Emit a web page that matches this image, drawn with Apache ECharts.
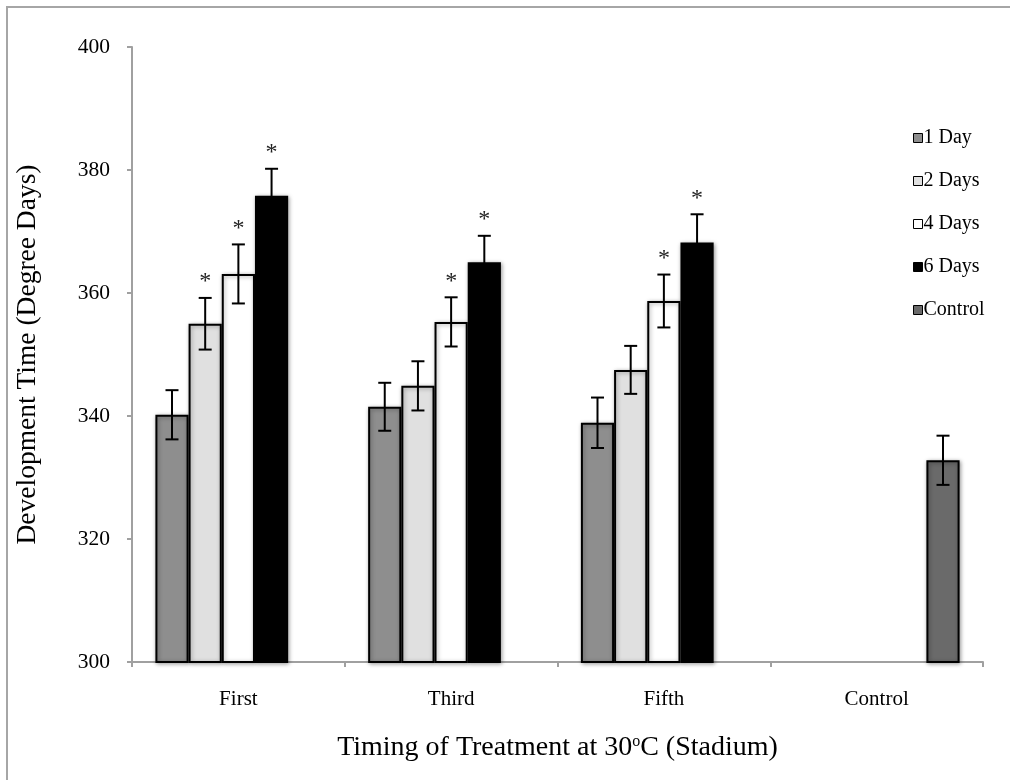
<!DOCTYPE html>
<html>
<head>
<meta charset="utf-8">
<script src="https://cdn.jsdelivr.net/npm/echarts@6/dist/echarts.min.js"></script>
<style>
html,body{margin:0;padding:0;background:#fff;}
#chart{width:1010px;height:780px;}
</style>
</head>
<body>
<div id="chart"></div>
<script>
const categories = ['First', 'Third', 'Fifth', 'Control'];
const seriesNames = ['1 Day', '2 Days', '4 Days', '6 Days', 'Control'];
const yTicks = [300, 320, 340, 360, 380, 400];

const oneDay   = [340.2, 341.5, 338.9, null];
const twoDays  = [355.0, 344.9, 347.5, null];
const fourDays = [363.1, 355.3, 358.7, null];
const sixDays  = [375.8, 365.0, 368.2, null];
const control  = [null, null, null, 332.8];

const oneDayErr   = [4.0, 3.9, 4.1, null];
const twoDaysErr  = [4.2, 4.0, 3.9, null];
const fourDaysErr = [4.8, 4.0, 4.3, null];
const sixDaysErr  = [4.4, 4.3, 4.6, null];
const controlErr  = [null, null, null, 4.0];

const oneDaySig   = [false, false, false, false];
const twoDaysSig  = [true, false, false, false];
const fourDaysSig = [true, true, true, false];
const sixDaysSig  = [true, true, true, false];
const controlSig  = [false, false, false, false];

const values = [oneDay, twoDays, fourDays, sixDays, control];
const errs = [oneDayErr, twoDaysErr, fourDaysErr, sixDaysErr, controlErr];
const sigs = [oneDaySig, twoDaysSig, fourDaysSig, sixDaysSig, controlSig];
const colors = ['#8e8e8e', '#e0e0e0', '#ffffff', '#000000', '#6a6a6a'];

const FONT = '"Liberation Serif", "DejaVu Serif", serif';
const CAT_GAP = 0.22;
const N = seriesNames.length;

const errData = [];
for (let s = 0; s < N; s++) {
  for (let c = 0; c < categories.length; c++) {
    if (values[s][c] != null) {
      errData.push([c, values[s][c], errs[s][c], s, sigs[s][c] ? 1 : 0]);
    }
  }
}

const barSeries = seriesNames.map((name, i) => ({
  name: name,
  type: 'bar',
  data: values[i],
  barGap: '0%',
  barCategoryGap: (CAT_GAP * 100) + '%',
  itemStyle: {
    color: colors[i],
    borderColor: '#000',
    borderWidth: 2,
    shadowColor: 'rgba(0,0,0,0.35)',
    shadowBlur: 4,
    shadowOffsetX: 1,
    shadowOffsetY: 1
  },
  emphasis: {disabled: true}
}));

const errSeries = {
  type: 'custom',
  name: 'err',
  data: errData,
  z: 10,
  silent: true,
  renderItem: function (params, api) {
    const c = api.value(0), v = api.value(1), e = api.value(2), s = api.value(3), sig = api.value(4);
    const band = api.size([1, 0])[0];
    const bw = band * (1 - CAT_GAP) / N;
    const center = api.coord([c, v]);
    const x = center[0] + (s - (N - 1) / 2) * bw;
    const yTop = api.coord([c, v + e])[1];
    const yBot = api.coord([c, v - e])[1];
    const cap = 6.5;
    const st = {stroke: '#000', lineWidth: 2};
    const children = [
      {type: 'line', shape: {x1: x, y1: yTop, x2: x, y2: yBot}, style: st},
      {type: 'line', shape: {x1: x - cap, y1: yTop, x2: x + cap, y2: yTop}, style: st},
      {type: 'line', shape: {x1: x - cap, y1: yBot, x2: x + cap, y2: yBot}, style: st}
    ];
    if (sig) {
      children.push({
        type: 'text',
        style: {text: '*', x: x, y: yTop - 4, align: 'center', verticalAlign: 'bottom',
                font: '24px ' + FONT, fill: '#222'}
      });
    }
    return {type: 'group', children: children};
  }
};

const chart = echarts.init(document.getElementById('chart'), null, {renderer: 'canvas'});
chart.setOption({
  backgroundColor: '#fff',
  animation: false,
  graphic: [{
    type: 'rect',
    shape: {x: 7, y: 7, width: 1020, height: 800},
    style: {fill: 'none', stroke: '#a6a6a6', lineWidth: 2},
    silent: true, z: -1
  }],
  grid: {left: 132, right: 27, top: 47, bottom: 118},
  legend: {
    data: seriesNames,
    orient: 'vertical',
    left: 908,
    top: 123,
    itemWidth: 9,
    itemHeight: 9,
    itemGap: 23,
    icon: 'rect',
    textStyle: {fontFamily: FONT, fontSize: 20, color: '#000', padding: [0, 0, 0, -4]},
    itemStyle: {borderColor: '#000', borderWidth: 1, shadowBlur: 0, shadowOffsetX: 0, shadowOffsetY: 0}
  },
  xAxis: {
    type: 'category',
    data: categories,
    name: 'Timing of Treatment at 30{sup|o}C (Stadium)',
    nameLocation: 'middle',
    nameGap: 72,
    nameTextStyle: {
      fontFamily: FONT, fontSize: 28, color: '#000',
      rich: {sup: {fontFamily: FONT, fontSize: 16, color: '#000', verticalAlign: 'top', padding: [0, 0, 12, 0]}}
    },
    axisLine: {lineStyle: {color: '#a0a0a0', width: 2}},
    axisTick: {show: true, length: 5, lineStyle: {color: '#a0a0a0', width: 2}},
    axisLabel: {fontFamily: FONT, fontSize: 21, color: '#000', margin: 27}
  },
  yAxis: {
    type: 'value',
    min: 300,
    max: 400,
    interval: 20,
    name: 'Development Time (Degree Days)',
    nameLocation: 'middle',
    nameGap: 90,
    nameTextStyle: {fontFamily: FONT, fontSize: 27.5, color: '#000'},
    axisLine: {show: true, lineStyle: {color: '#a0a0a0', width: 2}},
    axisTick: {show: true, length: 5, lineStyle: {color: '#a0a0a0', width: 2}},
    splitLine: {show: false},
    axisLabel: {fontFamily: FONT, fontSize: 21.5, color: '#000', margin: 22,
      formatter: function (v) { return yTicks.indexOf(v) >= 0 ? String(v) : ''; }}
  },
  series: barSeries.concat([errSeries])
});
</script>
</body>
</html>
